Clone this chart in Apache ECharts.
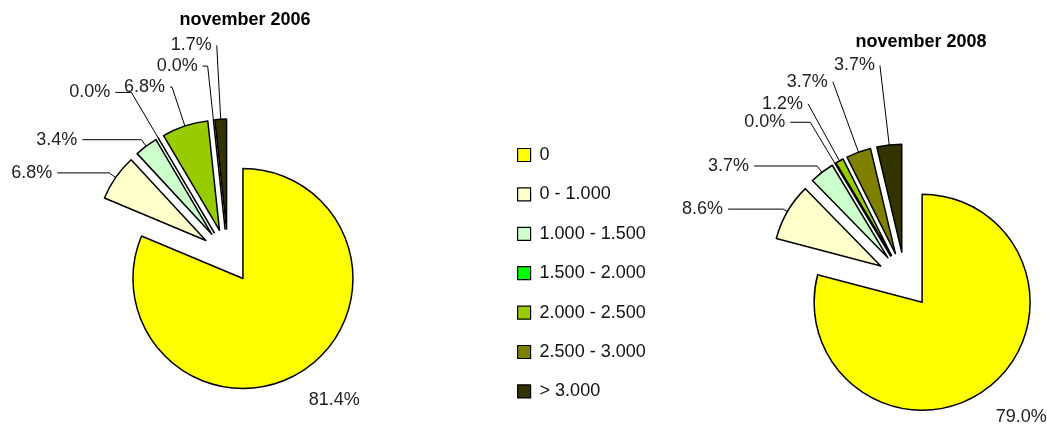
<!DOCTYPE html>
<html>
<head>
    <meta charset="utf-8">
    <title>november 2006 / 2008</title>
    <script src="https://cdn.jsdelivr.net/npm/echarts@6/dist/echarts.min.js"></script>
    <style>
        body { margin: 0; background: #fff; }
    </style>
</head>
<body>
<div id="chart" style="width: 1047px; height: 426px;"></div>
<script>
    // categories and values (percent)
    var categories = ['0', '0 - 1.000', '1.000 - 1.500', '1.500 - 2.000', '2.000 - 2.500', '2.500 - 3.000', '> 3.000'];
    var values2006 = [81.4, 6.8, 3.4, 0.0, 6.8, 0.0, 1.7];
    var values2008 = [79.0, 8.6, 3.7, 0.0, 1.2, 3.7, 3.7];
    var titles = ['november 2006', 'november 2008'];
    var colors = ['#ffff00', '#ffffcc', '#ccffcc', '#00ff00', '#99cc00', '#808000', '#333300'];

    // label leader lines per slice: [length, length2, distance to line, show line]
    var place2006 = [[36, 0, -15, false], [8, 52, 5, true], [8, 59, 5, true], [53, 16, 5, true],
                     [41, 2, 5, true], [54, 5, 5, true], [74, 0, 5, true]];
    var place2008 = [[37, 0, -15, false], [5, 55, 5, true], [8, 63, 5, true], [48, 20, 5, true],
                     [65, 0, 5, true], [75, 0, 5, true], [80, 0, 5, true]];

    var font = '"Liberation Sans", Arial, sans-serif';

    var myChart = echarts.init(document.getElementById('chart'));

    function makeData(vals, place) {
        return categories.map(function (c, i) {
            var p = place[i];
            return {
                name: c,
                value: vals[i],
                selected: true,
                label: { distanceToLabelLine: p[2] },
                labelLine: { length: p[0], length2: p[1], show: p[3] }
            };
        });
    }

    function makePie(vals, place, center, radius, offset) {
        return {
            type: 'pie',
            center: center,
            radius: radius,
            startAngle: 90,
            clockwise: true,
            selectedMode: 'multiple',
            selectedOffset: offset,
            animation: false,
            avoidLabelOverlap: false,
            itemStyle: { borderColor: '#000', borderWidth: 1.5 },
            select: { itemStyle: { borderColor: '#000', borderWidth: 1.5 } },
            emphasis: { disabled: true },
            label: {
                show: true,
                position: 'outside',
                color: '#222',
                fontSize: 18,
                fontFamily: font,
                bleedMargin: 0,
                formatter: function (p) { return p.value.toFixed(1) + '%'; }
            },
            labelLine: {
                show: true,
                lineStyle: { color: '#000', width: 1 }
            },
            labelLayout: { hideOverlap: false },
            data: makeData(vals, place)
        };
    }

    var option = {
        color: colors,
        title: [
            { text: titles[0], left: 245, top: 11, textAlign: 'center', padding: 0,
              textStyle: { fontSize: 18, fontWeight: 'bold', color: '#000', fontFamily: font } },
            { text: titles[1], left: 921, top: 33, textAlign: 'center', padding: 0,
              textStyle: { fontSize: 18, fontWeight: 'bold', color: '#000', fontFamily: font } }
        ],
        legend: {
            orient: 'vertical',
            left: 517,
            top: 146,
            padding: 0,
            itemWidth: 13,
            itemHeight: 13,
            itemGap: 21.4,
            selectedMode: false,
            icon: 'rect',
            itemStyle: { borderColor: '#000', borderWidth: 1.2 },
            textStyle: { fontSize: 18, color: '#111', fontFamily: font, padding: [0, 0, 0, 4] },
            data: categories
        },
        series: [
            makePie(values2006, place2006, [228, 256], 110, 27),
            makePie(values2008, place2008, [905, 280], 108, 28)
        ]
    };

    myChart.setOption(option);
</script>
</body>
</html>
